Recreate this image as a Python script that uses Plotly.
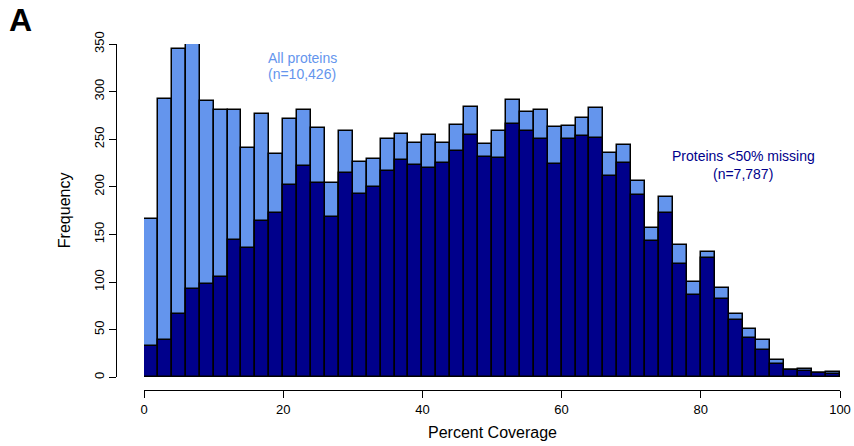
import plotly.graph_objects as go

# Histogram bins (percent coverage, bin width 2)
bin_width = 2
bin_starts = list(range(0, 100, bin_width))

# Counts per bin: all proteins (n=10,426)
all_counts = [166, 292, 345, 350, 290, 281, 281, 241, 276, 234,
              271, 281, 262, 204, 259, 226, 229, 250, 255, 246,
              254, 246, 265, 284, 245, 259, 291, 279, 281, 263,
              264, 272, 283, 236, 244, 206, 157, 189, 139, 100,
              132, 94, 67, 51, 39, 18, 8, 9, 5, 6]

# Counts per bin: proteins with <50% missing (n=7,787)
sub_counts = [33, 39, 67, 93, 98, 105, 144, 136, 164, 173,
              202, 222, 204, 168, 215, 192, 200, 217, 228, 223,
              220, 225, 238, 254, 231, 230, 266, 259, 250, 224,
              250, 253, 251, 211, 225, 191, 143, 173, 119, 86,
              125, 82, 60, 41, 29, 14, 8, 7, 5, 3]

x_ticks = [0, 20, 40, 60, 80, 100]
y_ticks = [0, 50, 100, 150, 200, 250, 300, 350]

light = "#6495ED"
dark = "#00008B"
font_family = "Liberation Sans, Arial, sans-serif"

fig = go.Figure()
fig.add_trace(go.Bar(x=bin_starts, y=all_counts, width=bin_width, offset=0,
                     marker=dict(color=light, line=dict(color="black", width=1.5)),
                     hoverinfo="skip", showlegend=False))
fig.add_trace(go.Bar(x=bin_starts, y=sub_counts, width=bin_width, offset=0,
                     marker=dict(color=dark, line=dict(color="black", width=1.5)),
                     hoverinfo="skip", showlegend=False))

axis_common = dict(showgrid=False, zeroline=False, showline=True, linecolor="black",
                   linewidth=1.3, ticks="outside", ticklen=7, tickwidth=1.3,
                   tickcolor="black", automargin=False,
                   tickfont=dict(family=font_family, size=13, color="black"))

fig.update_layout(
    width=854, height=446,
    margin=dict(l=116, r=14, t=44, b=56, autoexpand=False),
    paper_bgcolor="white", plot_bgcolor="white",
    barmode="overlay", bargap=0,
    font=dict(family=font_family, color="black"),
    xaxis=dict(range=[0, 100], domain=[28 / 724, 1], anchor="free", position=0,
               tickvals=x_ticks, **axis_common),
    yaxis=dict(range=[0, 350], domain=[12.7 / 346, 1], anchor="free", position=0,
               tickvals=y_ticks, tickangle=-90, **axis_common),
    annotations=[
        dict(text="All proteins", x=22.75, y=335.8, xref="x", yref="y", showarrow=False,
             font=dict(size=14, color=light, family=font_family)),
        dict(text="(n=10,426)", x=22.75, y=318, xref="x", yref="y", showarrow=False,
             font=dict(size=14, color=light, family=font_family)),
        dict(text="Proteins <50% missing", x=86.1, y=232.2, xref="x", yref="y", showarrow=False,
             font=dict(size=14, color=dark, family=font_family)),
        dict(text="(n=7,787)", x=86.1, y=214, xref="x", yref="y", showarrow=False,
             font=dict(size=14, color=dark, family=font_family)),
        dict(text="Percent Coverage", x=50, y=(390 - 433) / 346, xref="x", yref="paper",
             xanchor="center", yanchor="middle",
             showarrow=False, font=dict(size=16, family=font_family)),
        dict(text="Frequency", x=(64.5 - 116) / 724, y=175, xref="paper", yref="y",
             xanchor="center", yanchor="middle",
             showarrow=False, textangle=-90, font=dict(size=16, family=font_family)),
        dict(text="<b>A</b>", x=(7 - 116) / 724, y=(390 - 20) / 346, xref="paper", yref="paper",
             xanchor="left", yanchor="middle", showarrow=False,
             font=dict(size=32, family=font_family)),
    ],
)

fig.write_html("out.html")
